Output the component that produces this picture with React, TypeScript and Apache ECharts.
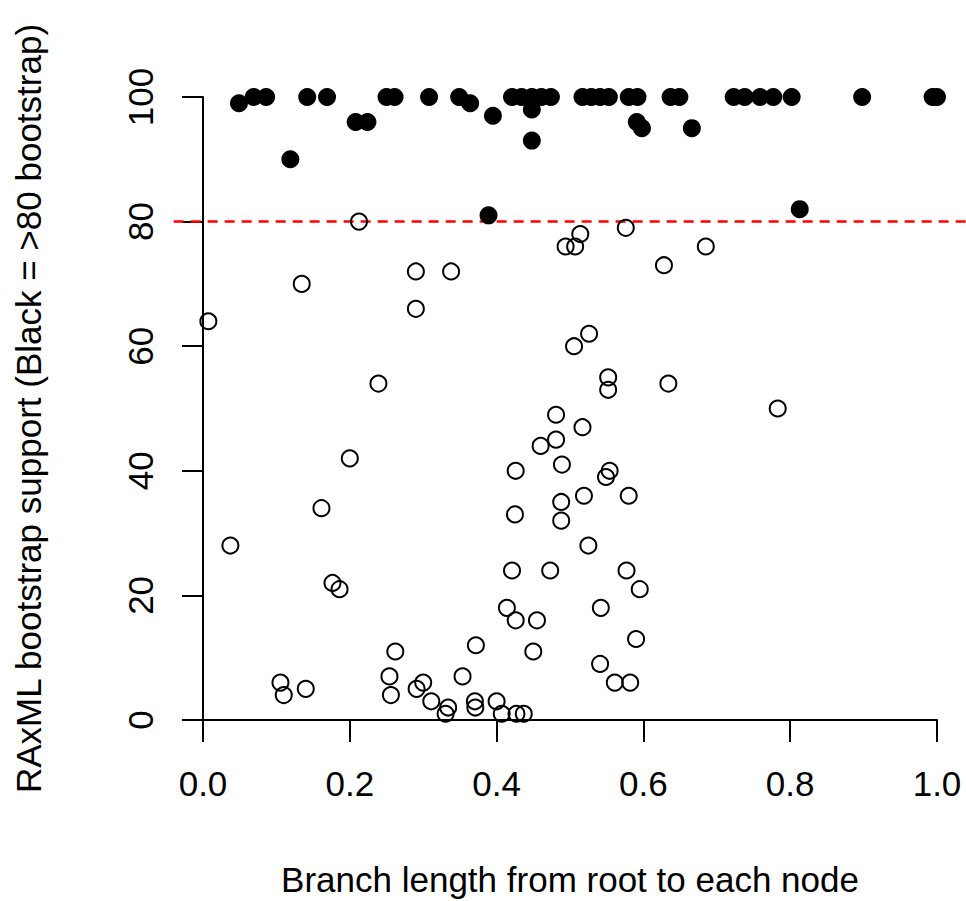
import React, { useEffect, useRef } from "react";
import * as echarts from "echarts";

// Nodes with bootstrap support > 80 (black, filled)
const STRONG_X = [
  0.049, 0.069, 0.086, 0.119, 0.142, 0.169, 0.208, 0.224, 0.25, 0.261, 0.308, 0.349, 0.364,
  0.395, 0.389, 0.421, 0.434, 0.448, 0.461, 0.474, 0.448, 0.448, 0.517, 0.529, 0.541, 0.553,
  0.58, 0.592, 0.591, 0.598, 0.637, 0.649, 0.666, 0.723, 0.738, 0.759, 0.777, 0.802, 0.898,
  0.994, 1.0, 0.813,
];
const STRONG_Y = [
  99, 100, 100, 90, 100, 100, 96, 96, 100, 100, 100, 100, 99,
  97, 81, 100, 100, 100, 100, 100, 98, 93, 100, 100, 100, 100,
  100, 100, 96, 95, 100, 100, 95, 100, 100, 100, 100, 100, 100,
  100, 100, 82,
];

// Nodes with bootstrap support <= 80 (open circles)
const WEAK_X = [
  0.2125, 0.494, 0.507, 0.514, 0.576, 0.628, 0.685, 0.29, 0.338, 0.1345, 0.29, 0.0073,
  0.5055, 0.526, 0.239, 0.552, 0.552, 0.634, 0.783, 0.481, 0.517, 0.481, 0.46, 0.489,
  0.2, 0.426, 0.554, 0.549, 0.519, 0.58, 0.488, 0.425, 0.488, 0.1614, 0.0373, 0.525,
  0.421, 0.473, 0.577, 0.1764, 0.186, 0.595, 0.414, 0.426, 0.455, 0.542, 0.59, 0.45,
  0.262, 0.3718, 0.541, 0.561, 0.582, 0.254, 0.256, 0.1055, 0.11, 0.14, 0.291, 0.3,
  0.311, 0.334, 0.3305, 0.3536, 0.3704, 0.371, 0.4, 0.407, 0.427, 0.437,
];
const WEAK_Y = [
  80, 76, 76, 78, 79, 73, 76, 72, 72, 70, 66, 64,
  60, 62, 54, 55, 53, 54, 50, 49, 47, 45, 44, 41,
  42, 40, 40, 39, 36, 36, 35, 33, 32, 34, 28, 28,
  24, 24, 24, 22, 21, 21, 18, 16, 16, 18, 13, 11,
  11, 12, 9, 6, 6, 7, 4, 6, 4, 5, 5, 6,
  3, 2, 1, 7, 3, 2, 3, 1, 1, 1,
];

const X_MIN = 0;
const X_MAX = 1;
const X_STEP = 0.2;
const Y_MIN = 0;
const Y_MAX = 100;
const Y_STEP = 20;
const THRESHOLD = 80;
const PLOT_REGION_X = [-0.04, 1.04];

const X_TITLE = "Branch length from root to each node";
const Y_TITLE = "RAxML bootstrap support (Black = >80 bootstrap)";

const FONT = "Liberation Sans, Arial, sans-serif";

export default function App() {
  const ref = useRef<HTMLDivElement>(null);

  useEffect(() => {
    if (!ref.current) return;
    const chart = echarts.init(ref.current, null, { renderer: "svg" });
    const strong = STRONG_X.map((x, i) => [x, STRONG_Y[i]]);
    const weak = WEAK_X.map((x, i) => [x, WEAK_Y[i]]);

    chart.setOption({
      animation: false,
      backgroundColor: "#ffffff",
      grid: {
        left: 203,
        right: 29,
        top: 97,
        bottom: 181,
        containLabel: false,
        outerBoundsMode: "none",
      },
      xAxis: {
        type: "value",
        min: X_MIN,
        max: X_MAX,
        interval: X_STEP,
        splitLine: { show: false },
        axisLine: { show: true, onZero: false, lineStyle: { color: "#000", width: 2 } },
        axisTick: { show: true, length: 22, lineStyle: { color: "#000", width: 2 } },
        axisLabel: {
          margin: 46,
          fontSize: 35,
          color: "#000",
          fontFamily: FONT,
          formatter: (v: number) => v.toFixed(1),
        },
        name: X_TITLE,
        nameLocation: "middle",
        nameGap: 142,
        nameTextStyle: { fontSize: 35, color: "#000", fontFamily: FONT },
      },
      yAxis: {
        type: "value",
        min: Y_MIN,
        max: Y_MAX,
        interval: Y_STEP,
        splitLine: { show: false },
        axisLine: { show: true, onZero: false, lineStyle: { color: "#000", width: 2 } },
        axisTick: { show: true, length: 21, lineStyle: { color: "#000", width: 2 } },
        axisLabel: {
          margin: 45,
          rotate: 90,
          fontSize: 35,
          color: "#000",
          fontFamily: FONT,
        },
        name: Y_TITLE,
        nameLocation: "middle",
        nameRotate: 90,
        nameGap: 157,
        nameTextStyle: { fontSize: 35, color: "#000", fontFamily: FONT },
      },
      series: [
        {
          type: "scatter",
          data: weak,
          clip: false,
          symbol: "circle",
          symbolSize: 16,
          itemStyle: { color: "rgba(0,0,0,0)", borderColor: "#000", borderWidth: 2, opacity: 1 },
          z: 3,
        },
        {
          type: "scatter",
          data: strong,
          clip: false,
          symbol: "circle",
          symbolSize: 18,
          itemStyle: { color: "#000", opacity: 1 },
          z: 4,
        },
      ],
    });

    const p1 = chart.convertToPixel({ gridIndex: 0 }, [PLOT_REGION_X[0], THRESHOLD]) as number[];
    const p2 = chart.convertToPixel({ gridIndex: 0 }, [PLOT_REGION_X[1], THRESHOLD]) as number[];
    chart.setOption({
      graphic: [
        {
          type: "line",
          z: 1,
          shape: { x1: p1[0], y1: p1[1], x2: p2[0], y2: p2[1] },
          style: { stroke: "#ff0000", lineWidth: 2.5, lineDash: [10, 7] },
        },
      ],
    });

    return () => chart.dispose();
  }, []);

  return (
    <div
      ref={ref}
      style={{ position: "absolute", left: 0, top: 0, width: 966, height: 901, background: "#fff" }}
    />
  );
}
